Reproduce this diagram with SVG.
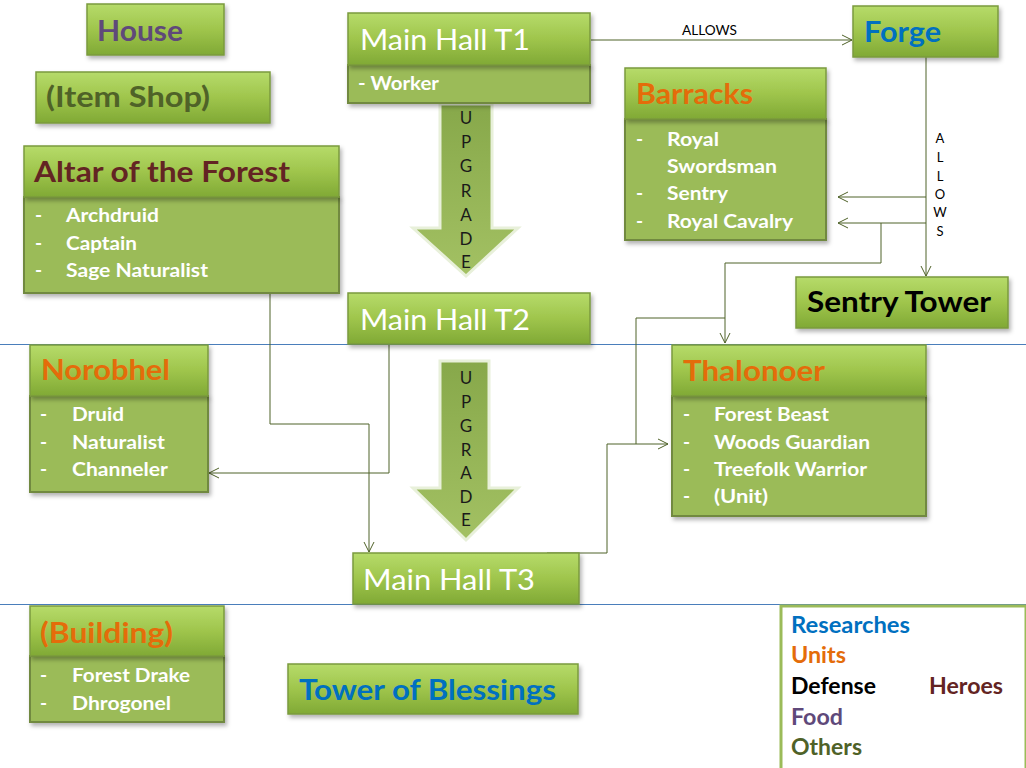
<svg xmlns="http://www.w3.org/2000/svg" width="1026" height="768" viewBox="0 0 1026 768">
<defs>
<linearGradient id="hdr" x1="0" y1="0" x2="0" y2="1">
<stop offset="0" stop-color="#b6db6a"/>
<stop offset="0.5" stop-color="#9fc54c"/>
<stop offset="1" stop-color="#80a935"/>
</linearGradient>
<linearGradient id="arr" x1="0" y1="0" x2="0" y2="1">
<stop offset="0" stop-color="#87a84a"/>
<stop offset="1" stop-color="#a3c163"/>
</linearGradient>
<filter id="sh" x="-10%" y="-10%" width="125%" height="135%">
<feDropShadow dx="2" dy="3" stdDeviation="2" flood-color="#000" flood-opacity="0.3"/>
</filter>
<marker id="ah" markerUnits="userSpaceOnUse" markerWidth="14" markerHeight="14" refX="11" refY="6" orient="auto">
<path d="M1,1 L11,6 L1,11" fill="none" stroke="#4f6228" stroke-width="1"/>
</marker>
</defs>
<style>
.hdr{fill:url(#hdr);stroke:#7b9a3e;stroke-width:1.5;filter:url(#sh)}
.body{fill:#9bbb59;stroke:#71893f;stroke-width:2;filter:url(#sh)}
.t{font-family:Lato,"Open Sans",sans-serif;font-weight:bold;font-size:28px}
.mh{font-family:Lato,"Open Sans",sans-serif;font-size:29px;fill:#ffffff}
.it{font-family:Lato,"Open Sans",sans-serif;font-weight:bold;font-size:19px;fill:#ffffff}
.lbl{font-family:Lato,"Open Sans",sans-serif;font-size:13px;fill:#000}
.up{font-family:Lato,"Open Sans",sans-serif;font-size:17px;fill:#1a1a1a;text-anchor:middle}
.lg{font-family:Lato,"Open Sans",sans-serif;font-weight:bold;font-size:22px}
.c{fill:none;stroke:#4f6228;stroke-width:1}
.sep{stroke:#4a7ebb;stroke-width:1}
.arrow{fill:url(#arr);stroke:#e8f0da;stroke-width:3}
</style>
<rect width="1026" height="768" fill="#ffffff"/>
<line class="sep" x1="0" y1="344.5" x2="1026" y2="344.5"/>
<line class="sep" x1="0" y1="604.5" x2="1026" y2="604.5"/>

<g id="upgrade1">
<path class="arrow" d="M440,104 H492 V228 H518 L466,276 L413,228 H440 Z"/>
<text class="up" x="466" y="124">U</text><text class="up" x="466" y="148">P</text><text class="up" x="466" y="172">G</text><text class="up" x="466" y="197">R</text><text class="up" x="466" y="221">A</text><text class="up" x="466" y="245">D</text><text class="up" x="466" y="268">E</text>
</g>
<g id="upgrade2">
<path class="arrow" d="M440,361 H489 V488 H518 L466,540 L413,488 H440 Z"/>
<text class="up" x="466" y="384">U</text><text class="up" x="466" y="408">P</text><text class="up" x="466" y="432">G</text><text class="up" x="466" y="456">R</text><text class="up" x="466" y="479">A</text><text class="up" x="466" y="503">D</text><text class="up" x="466" y="526">E</text>
</g>

<g id="connectors">
<path class="c" d="M591,40 H852" marker-end="url(#ah)"/>
<text class="lbl" x="682" y="35" textLength="55" lengthAdjust="spacingAndGlyphs">ALLOWS</text>
<path class="c" d="M926,57 V276" marker-end="url(#ah)"/>
<path class="c" d="M926,197 H838" marker-end="url(#ah)"/>
<path class="c" d="M926,223 H838" marker-end="url(#ah)"/>
<path class="c" d="M881,223 V263 H725 V343" marker-end="url(#ah)"/>
<path class="c" d="M725,318 H636 V444 H668" marker-end="url(#ah)"/>
<path class="c" d="M547,553 H607 V444 H636"/>
<path class="c" d="M389,345 V473 H209" marker-end="url(#ah)"/>
<path class="c" d="M270,294 V424 H369 V552" marker-end="url(#ah)"/>
<g class="lbl" text-anchor="middle">
<text x="940" y="143">A</text><text x="940" y="162">L</text><text x="940" y="181">L</text><text x="940" y="199">O</text><text x="940" y="217">W</text><text x="940" y="236">S</text>
</g>
</g>

<g id="house">
<rect class="hdr" x="87" y="4" width="137" height="51"/>
<text class="t" x="97" y="41" fill="#5f497a" textLength="86" lengthAdjust="spacingAndGlyphs">House</text>
</g>
<g id="item-shop">
<rect class="hdr" x="36" y="72" width="234" height="51"/>
<text class="t" x="46" y="107" fill="#4f6228" textLength="164" lengthAdjust="spacingAndGlyphs">(Item Shop)</text>
</g>
<g id="altar">
<rect class="body" x="24" y="197" width="315" height="96"/>
<rect class="hdr" x="24" y="146" width="315" height="51"/>
<text class="t" x="34" y="182" fill="#632423" textLength="256" lengthAdjust="spacingAndGlyphs">Altar of the Forest</text>
<text class="it" x="35" y="222">-</text><text class="it" x="66" y="222" textLength="93" lengthAdjust="spacingAndGlyphs">Archdruid</text>
<text class="it" x="35" y="250">-</text><text class="it" x="66" y="250" textLength="71" lengthAdjust="spacingAndGlyphs">Captain</text>
<text class="it" x="35" y="277">-</text><text class="it" x="66" y="277" textLength="142" lengthAdjust="spacingAndGlyphs">Sage Naturalist</text>
</g>
<g id="main-hall-t1">
<rect class="body" x="348" y="65" width="242" height="38"/>
<rect class="hdr" x="348" y="13" width="242" height="52"/>
<text class="mh" x="360" y="50" textLength="170" lengthAdjust="spacingAndGlyphs">Main Hall T1</text>
<text class="it" x="358" y="90" textLength="81" lengthAdjust="spacingAndGlyphs">- Worker</text>
</g>
<g id="main-hall-t2">
<rect class="hdr" x="348" y="293" width="242" height="51"/>
<text class="mh" x="360" y="330" textLength="170" lengthAdjust="spacingAndGlyphs">Main Hall T2</text>
</g>
<g id="main-hall-t3">
<rect class="hdr" x="353" y="553" width="226" height="51"/>
<text class="mh" x="363" y="590" textLength="172" lengthAdjust="spacingAndGlyphs">Main Hall T3</text>
</g>
<g id="forge">
<rect class="hdr" x="853" y="6" width="145" height="51"/>
<text class="t" x="864" y="42" fill="#0070c0" textLength="77" lengthAdjust="spacingAndGlyphs">Forge</text>
</g>
<g id="barracks">
<rect class="body" x="625" y="119" width="201" height="121"/>
<rect class="hdr" x="625" y="68" width="201" height="51"/>
<text class="t" x="636" y="104" fill="#e46c0a" textLength="117" lengthAdjust="spacingAndGlyphs">Barracks</text>
<text class="it" x="636" y="146">-</text><text class="it" x="667" y="146" textLength="52" lengthAdjust="spacingAndGlyphs">Royal</text>
<text class="it" x="667" y="173" textLength="110" lengthAdjust="spacingAndGlyphs">Swordsman</text>
<text class="it" x="636" y="200">-</text><text class="it" x="667" y="200" textLength="61" lengthAdjust="spacingAndGlyphs">Sentry</text>
<text class="it" x="636" y="228">-</text><text class="it" x="667" y="228" textLength="126" lengthAdjust="spacingAndGlyphs">Royal Cavalry</text>
</g>
<g id="sentry-tower">
<rect class="hdr" x="796" y="277" width="212" height="51"/>
<text class="t" x="807" y="312" fill="#000000" textLength="184" lengthAdjust="spacingAndGlyphs">Sentry Tower</text>
</g>
<g id="norobhel">
<rect class="body" x="30" y="396" width="178" height="96"/>
<rect class="hdr" x="30" y="345" width="178" height="51"/>
<text class="t" x="41" y="380" fill="#e46c0a" textLength="129" lengthAdjust="spacingAndGlyphs">Norobhel</text>
<text class="it" x="40" y="421">-</text><text class="it" x="72" y="421" textLength="52" lengthAdjust="spacingAndGlyphs">Druid</text>
<text class="it" x="40" y="449">-</text><text class="it" x="72" y="449" textLength="93" lengthAdjust="spacingAndGlyphs">Naturalist</text>
<text class="it" x="40" y="476">-</text><text class="it" x="72" y="476" textLength="96" lengthAdjust="spacingAndGlyphs">Channeler</text>
</g>
<g id="thalonoer">
<rect class="body" x="672" y="396" width="254" height="120"/>
<rect class="hdr" x="672" y="345" width="254" height="51"/>
<text class="t" x="683" y="381" fill="#e46c0a" textLength="142" lengthAdjust="spacingAndGlyphs">Thalonoer</text>
<text class="it" x="683" y="421">-</text><text class="it" x="714" y="421" textLength="115" lengthAdjust="spacingAndGlyphs">Forest Beast</text>
<text class="it" x="683" y="449">-</text><text class="it" x="714" y="449" textLength="156" lengthAdjust="spacingAndGlyphs">Woods Guardian</text>
<text class="it" x="683" y="476">-</text><text class="it" x="714" y="476" textLength="153" lengthAdjust="spacingAndGlyphs">Treefolk Warrior</text>
<text class="it" x="683" y="503">-</text><text class="it" x="714" y="503" textLength="54" lengthAdjust="spacingAndGlyphs">(Unit)</text>
</g>
<g id="building">
<rect class="body" x="30" y="656" width="194" height="66"/>
<rect class="hdr" x="30" y="606" width="194" height="50"/>
<text class="t" x="40" y="643" fill="#e46c0a" textLength="133" lengthAdjust="spacingAndGlyphs">(Building)</text>
<text class="it" x="40" y="682">-</text><text class="it" x="72" y="682" textLength="118" lengthAdjust="spacingAndGlyphs">Forest Drake</text>
<text class="it" x="40" y="710">-</text><text class="it" x="72" y="710" textLength="99" lengthAdjust="spacingAndGlyphs">Dhrogonel</text>
</g>
<g id="tower-of-blessings">
<rect class="hdr" x="288" y="664" width="290" height="50"/>
<text class="t" x="299" y="700" fill="#0070c0" textLength="257" lengthAdjust="spacingAndGlyphs">Tower of Blessings</text>
</g>
<g id="legend">
<rect x="781" y="606" width="245" height="164" fill="#ffffff" stroke="#9bbb59" stroke-width="3"/>
<text class="lg" x="791" y="633" fill="#0070c0" textLength="119" lengthAdjust="spacingAndGlyphs">Researches</text>
<text class="lg" x="791" y="663" fill="#e46c0a" textLength="55" lengthAdjust="spacingAndGlyphs">Units</text>
<text class="lg" x="791" y="694" fill="#000000" textLength="85" lengthAdjust="spacingAndGlyphs">Defense</text>
<text class="lg" x="929" y="694" fill="#632423" textLength="74" lengthAdjust="spacingAndGlyphs">Heroes</text>
<text class="lg" x="791" y="725" fill="#5f497a" textLength="52" lengthAdjust="spacingAndGlyphs">Food</text>
<text class="lg" x="791" y="755" fill="#4f6228" textLength="71" lengthAdjust="spacingAndGlyphs">Others</text>
</g>
</svg>
